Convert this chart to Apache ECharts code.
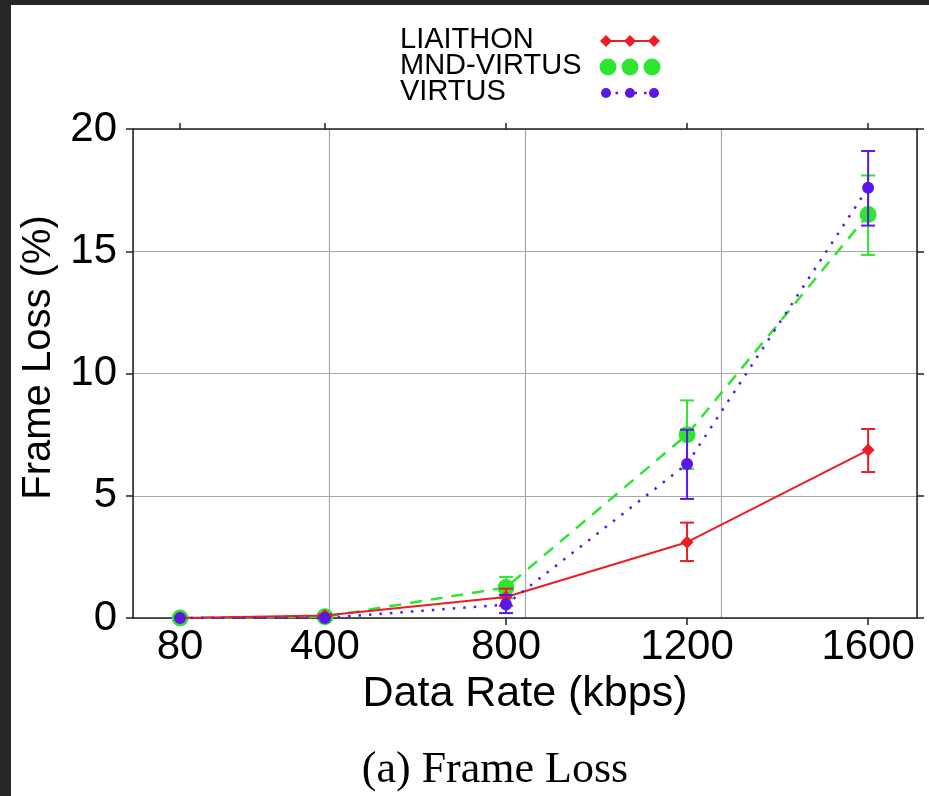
<!DOCTYPE html>
<html>
<head>
<meta charset="utf-8">
<script src="https://cdn.jsdelivr.net/npm/echarts@6/dist/echarts.min.js"></script>
<style>
  html, body { margin: 0; padding: 0; background: #272727; }
  #chart { position: absolute; left: 11px; top: 5px; width: 918px; height: 791px; background: #fff; }
</style>
</head>
<body>
<div id="chart"></div>
<script>
// data rate (kbps)
const rates = [80, 400, 800, 1200, 1600]
const yTicks = [0, 5, 10, 15, 20]

// frame loss (%) + error bar bounds
const liaithon = [0, 0.1, 0.86, 3.1, 6.87]
const liaithonLow = [0, 0.05, 0.5, 2.33, 5.97]
const liaithonHigh = [0, 0.15, 1.2, 3.9, 7.73]

const mndVirtus = [0, 0.05, 1.25, 7.5, 16.5]
const mndVirtusLow = [0, 0, 0.8, 6.1, 14.85]
const mndVirtusHigh = [0, 0.1, 1.68, 8.9, 18.1]

const virtus = [0, 0, 0.55, 6.3, 17.6]
const virtusLow = [0, 0, 0.2, 4.87, 16.05]
const virtusHigh = [0, 0, 0.94, 7.7, 19.1]

const RED = '#ee1c24'
const GREEN = '#2ee62e'
const BLUE = '#5b17e8'
const FONT = 'Liberation Sans, Arial, sans-serif'

const pairs = (ys) => rates.map((x, i) => [x, ys[i]])
const bars = (lo, hi) => rates.map((x, i) => [x, lo[i], hi[i]])

// 误差棒
function errorBar(color) {
  return function (params, api) {
    const x = api.value(0)
    const lo = api.coord([x, api.value(1)])
    const hi = api.coord([x, api.value(2)])
    if (hi[1] >= lo[1]) return null
    const w = 7
    const style = { stroke: color, lineWidth: 2 }
    return {
      type: 'group',
      children: [
        { type: 'line', shape: { x1: lo[0], y1: lo[1], x2: hi[0], y2: hi[1] }, style },
        { type: 'line', shape: { x1: hi[0] - w, y1: hi[1], x2: hi[0] + w, y2: hi[1] }, style },
        { type: 'line', shape: { x1: lo[0] - w, y1: lo[1], x2: lo[0] + w, y2: lo[1] }, style }
      ]
    }
  }
}

const axisLine = { show: true, onZero: false, lineStyle: { color: '#222', width: 1.5 } }
const tick = { show: true, inside: false, length: 7, lineStyle: { color: '#222', width: 1.5 } }

// 图例（文字在左，符号在右）
function legendRow(label, y, icon) {
  return {
    type: 'group',
    children: [
      { type: 'text', left: 389, top: y - 16, style: { text: label, fontSize: 29, fontFamily: FONT, fill: '#000' } },
      ...icon(y)
    ]
  }
}
const diamond = (cx, cy) => ({ type: 'polygon', shape: { points: [[cx, cy - 6], [cx + 6, cy], [cx, cy + 6], [cx - 6, cy]] }, style: { fill: RED } })

const options = {
  animation: false,
  textStyle: { fontFamily: FONT },
  grid: { left: 122, top: 124, right: 12, bottom: 178 },
  xAxis: [
    {
      type: 'value',
      min: -24,
      max: 1708,
      position: 'bottom',
      axisLine,
      axisTick: { ...tick, customValues: rates },
      axisLabel: { customValues: rates, formatter: (v) => String(v), fontSize: 42, color: '#000', margin: 8 },
      splitLine: { show: false },
      name: 'Data Rate (kbps)',
      nameLocation: 'middle',
      nameGap: 38,
      nameTextStyle: { fontSize: 43, color: '#000' }
    },
    {
      type: 'value',
      min: -24,
      max: 1708,
      position: 'top',
      axisLine,
      axisTick: { ...tick, length: 6, customValues: rates },
      axisLabel: { show: false },
      splitLine: { show: false }
    },
    {
      // 竖向网格线
      type: 'value',
      min: 0,
      max: 4,
      interval: 1,
      position: 'bottom',
      axisLine: { show: false },
      axisTick: { show: false },
      axisLabel: { show: false },
      splitLine: { show: true, lineStyle: { color: '#a8a8a8', width: 1.2 } }
    }
  ],
  yAxis: [
    {
      type: 'value',
      min: yTicks[0],
      max: yTicks[yTicks.length - 1],
      interval: 5,
      position: 'left',
      axisLine,
      axisTick: tick,
      axisLabel: { fontSize: 42, color: '#000', margin: 16 },
      splitLine: { show: true, lineStyle: { color: '#a8a8a8', width: 1.2 } },
      name: 'Frame Loss (%)',
      nameLocation: 'middle',
      nameGap: 70,
      nameTextStyle: { fontSize: 40, color: '#000', padding: [0, 0, 0, 32] }
    },
    {
      type: 'value',
      min: yTicks[0],
      max: yTicks[yTicks.length - 1],
      interval: 5,
      position: 'right',
      axisLine,
      axisTick: tick,
      axisLabel: { show: false },
      splitLine: { show: false }
    }
  ],
  series: [
    {
      name: 'LIAITHON',
      type: 'line',
      data: pairs(liaithon),
      symbol: 'diamond',
      symbolSize: 13,
      itemStyle: { color: RED },
      lineStyle: { color: RED, width: 2 },
      z: 3
    },
    {
      type: 'custom',
      renderItem: errorBar(RED),
      data: bars(liaithonLow, liaithonHigh),
      encode: { x: 0, y: [1, 2] },
      z: 3
    },
    {
      name: 'MND-VIRTUS',
      type: 'line',
      data: pairs(mndVirtus),
      symbol: 'circle',
      symbolSize: 17,
      itemStyle: { color: GREEN },
      lineStyle: { color: GREEN, width: 2.5, type: [12, 9] },
      z: 2
    },
    {
      type: 'custom',
      renderItem: errorBar(GREEN),
      data: bars(mndVirtusLow, mndVirtusHigh),
      encode: { x: 0, y: [1, 2] },
      z: 2
    },
    {
      name: 'VIRTUS',
      type: 'line',
      data: pairs(virtus),
      symbol: 'circle',
      symbolSize: 12,
      itemStyle: { color: BLUE },
      lineStyle: { color: BLUE, width: 2.5, type: [2.5, 8] },
      z: 4
    },
    {
      type: 'custom',
      renderItem: errorBar(BLUE),
      data: bars(virtusLow, virtusHigh),
      encode: { x: 0, y: [1, 2] },
      z: 4
    }
  ],
  graphic: [
    legendRow('LIAITHON', 36, (y) => [
      { type: 'line', shape: { x1: 593, y1: y, x2: 645, y2: y }, style: { stroke: RED, lineWidth: 2 } },
      diamond(595, y), diamond(619, y), diamond(643, y)
    ]),
    legendRow('MND-VIRTUS', 62, (y) => [
      { type: 'circle', shape: { cx: 597, cy: y, r: 8.5 }, style: { fill: GREEN } },
      { type: 'circle', shape: { cx: 619, cy: y, r: 8.5 }, style: { fill: GREEN } },
      { type: 'circle', shape: { cx: 641, cy: y, r: 8.5 }, style: { fill: GREEN } }
    ]),
    legendRow('VIRTUS', 88, (y) => [
      { type: 'line', shape: { x1: 595, y1: y, x2: 643, y2: y }, style: { stroke: BLUE, lineWidth: 2.5, lineDash: [2.5, 7] } },
      { type: 'circle', shape: { cx: 595, cy: y, r: 5 }, style: { fill: BLUE } },
      { type: 'circle', shape: { cx: 619, cy: y, r: 5 }, style: { fill: BLUE } },
      { type: 'circle', shape: { cx: 643, cy: y, r: 5 }, style: { fill: BLUE } }
    ]),
    {
      type: 'text',
      x: 484,
      y: 743,
      style: { text: '(a) Frame Loss', textAlign: 'center', fontSize: 44, fontFamily: 'Liberation Serif, Times New Roman, serif', fill: '#000' }
    }
  ]
}

let chart = echarts.init(document.getElementById('chart'))
chart.setOption(options)
window.addEventListener('resize', () => {
  chart.resize()
})
</script>
</body>
</html>
